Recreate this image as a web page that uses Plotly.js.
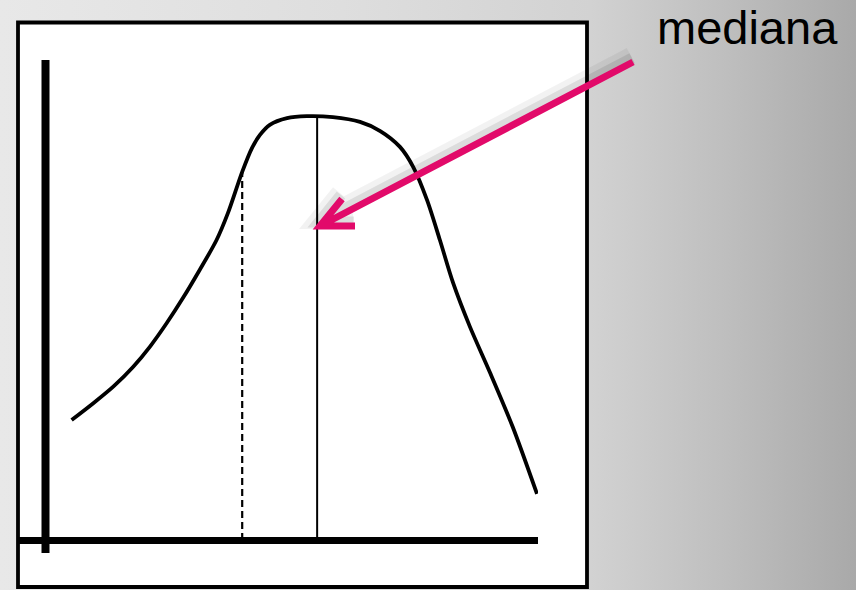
<!DOCTYPE html>
<html>
<head>
<meta charset="utf-8">
<script src="https://cdn.plot.ly/plotly-3.0.1.min.js"></script>
<style>
  html, body { margin: 0; padding: 0; }
  body {
    width: 856px; height: 590px; overflow: hidden;
    background: linear-gradient(to right, #e8e8e8 0%, #dedede 40%, #d2d2d2 69%, #bebebe 85%, #a9a9a9 100%);
  }
  #chart { width: 856px; height: 590px; }
</style>
</head>
<body>
<div id="chart"></div>
<script>
// ---- data ----
const curveX = [0.54, 0.98, 1.39, 1.79, 2.13, 2.47, 2.81, 3.14, 3.48, 3.71, 4.00, 4.20, 4.36, 4.56, 4.91, 5.31, 5.84, 6.39, 6.80, 7.20, 7.47, 7.75, 8.01, 8.28, 8.62, 9.03, 9.49, 9.98];
const curveY = [0.250, 0.285, 0.320, 0.361, 0.403, 0.452, 0.506, 0.563, 0.625, 0.681, 0.767, 0.817, 0.844, 0.865, 0.879, 0.883, 0.881, 0.871, 0.852, 0.819, 0.777, 0.708, 0.625, 0.535, 0.444, 0.348, 0.235, 0.096];
const dashedX = [4.0, 4.0];
const dashedY = [0, 0.767];
const medianX = [5.52, 5.52];
const medianY = [0, 0.882];
const labelText = "mediana";

// ---- layout helpers (pixel -> paper) ----
const W = 856, H = 590;
const PX = x => x / W;
const PY = y => 1 - y / H;

const plotLeft = 45, plotRight = 538, plotTop = 60, plotBottom = 540;

const traces = [
  { x: curveX, y: curveY, mode: 'lines', line: { color: '#000', width: 3.8, shape: 'spline', smoothing: 0.8 }, hoverinfo: 'skip' },
  { x: dashedX, y: dashedY, mode: 'lines', line: { color: '#000', width: 2.2, dash: '7px,4px' }, hoverinfo: 'skip' },
  { x: medianX, y: medianY, mode: 'lines', line: { color: '#000', width: 2 }, hoverinfo: 'skip' }
];

const magenta = 'rgb(226,10,106)';
function arrowPath(dx, dy) {
  const t = [633 + dx, 62 + dy], tip = [320 + dx, 226 + dy], b1 = [342 + dx, 199 + dy], b2 = [355 + dx, 226 + dy];
  const p = q => PX(q[0]) + ',' + PY(q[1]);
  return 'M' + p(t) + ' L' + p(tip) + ' M' + p(b1) + ' L' + p(tip) + ' L' + p(b2);
}

const shapes = [
  // white frame
  { type: 'rect', xref: 'paper', yref: 'paper', layer: 'below',
    x0: PX(18), x1: PX(587), y0: PY(22.5), y1: PY(587),
    fillcolor: '#ffffff', line: { color: '#000', width: 3.8 } },
  // vertical axis bar
  { type: 'line', xref: 'paper', yref: 'paper', layer: 'below',
    x0: PX(45.5), x1: PX(45.5), y0: PY(60), y1: PY(553), line: { color: '#000', width: 8 } },
  // horizontal axis bar
  { type: 'line', xref: 'paper', yref: 'paper', layer: 'below',
    x0: PX(18), x1: PX(538), y0: PY(540.5), y1: PY(540.5), line: { color: '#000', width: 7 } },
  // arrow shadow
  { type: 'path', xref: 'paper', yref: 'paper', layer: 'above', path: arrowPath(-2, -6),
    line: { color: 'rgba(0,0,0,0.05)', width: 18 } },
  { type: 'path', xref: 'paper', yref: 'paper', layer: 'above', path: arrowPath(-1, -4),
    line: { color: 'rgba(0,0,0,0.09)', width: 11 } },
  // arrow
  { type: 'path', xref: 'paper', yref: 'paper', layer: 'above', path: arrowPath(0, 0),
    line: { color: magenta, width: 7 } }
];

const layout = {
  width: W, height: H,
  margin: { l: 0, r: 0, t: 0, b: 0, pad: 0 },
  paper_bgcolor: 'rgba(0,0,0,0)',
  plot_bgcolor: 'rgba(0,0,0,0)',
  showlegend: false,
  xaxis: { domain: [PX(plotLeft), PX(plotRight)], range: [0, 10], visible: false, fixedrange: true },
  yaxis: { domain: [PY(plotBottom), PY(plotTop)], range: [0, 1], visible: false, fixedrange: true },
  shapes: shapes,
  annotations: [
    { xref: 'paper', yref: 'paper', x: PX(747), y: PY(27), xanchor: 'center', yanchor: 'middle',
      text: labelText, showarrow: false,
      font: { family: 'Liberation Sans, Arial, sans-serif', size: 47, color: '#000' } }
  ]
};

Plotly.newPlot('chart', traces, layout, { displayModeBar: false, staticPlot: true });
</script>
</body>
</html>
